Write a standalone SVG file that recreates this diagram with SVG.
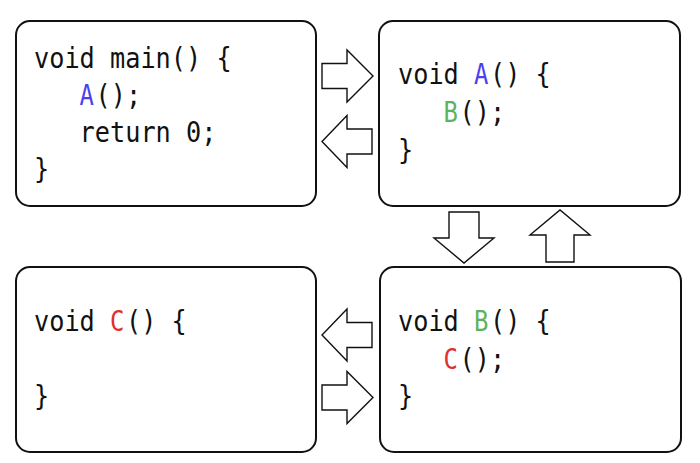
<svg xmlns="http://www.w3.org/2000/svg" width="700" height="463" viewBox="0 0 700 463">
  <style>
    .box { fill: #ffffff; stroke: #111111; stroke-width: 2; }
    .arrow { fill: #ffffff; stroke: #111111; stroke-width: 1.4; stroke-linejoin: miter; }
    .code { font-family: "DejaVu Sans Mono", "Liberation Mono", monospace; font-size: 28.5px; fill: #111111; }
    .fa { fill: #4b3ff0; }
    .fb { fill: #5db35d; }
    .fc { fill: #e0302a; }
  </style>
  <rect width="700" height="463" fill="#ffffff"/>

  <!-- main() ; monospace cells are about 15.2px wide -->
  <g id="node-main">
    <rect class="box" x="16" y="21" width="300" height="185" rx="14" ry="14"/>
    <text class="code" x="34" y="68" textLength="197.6" lengthAdjust="spacingAndGlyphs">void main() {</text>
    <text class="code fa" x="79.6" y="105" textLength="14.4" lengthAdjust="spacingAndGlyphs">A</text>
    <text class="code" x="95.6" y="105" textLength="45.6" lengthAdjust="spacingAndGlyphs">();</text>
    <text class="code" x="79.6" y="142" textLength="136.8" lengthAdjust="spacingAndGlyphs">return 0;</text>
    <text class="code" x="34" y="179" textLength="15.2" lengthAdjust="spacingAndGlyphs">}</text>
  </g>

  <!-- A() -->
  <g id="node-a">
    <rect class="box" x="379" y="21" width="301" height="185" rx="14" ry="14"/>
    <text class="code" x="398" y="84" textLength="60.8" lengthAdjust="spacingAndGlyphs">void</text>
    <text class="code fa" x="474" y="84" textLength="14.4" lengthAdjust="spacingAndGlyphs">A</text>
    <text class="code" x="490" y="84" textLength="60.8" lengthAdjust="spacingAndGlyphs">() {</text>
    <text class="code fb" x="443.6" y="122" textLength="14.4" lengthAdjust="spacingAndGlyphs">B</text>
    <text class="code" x="459.6" y="122" textLength="45.6" lengthAdjust="spacingAndGlyphs">();</text>
    <text class="code" x="398" y="160" textLength="15.2" lengthAdjust="spacingAndGlyphs">}</text>
  </g>

  <!-- C() -->
  <g id="node-c">
    <rect class="box" x="16" y="267" width="300" height="185" rx="14" ry="14"/>
    <text class="code" x="34" y="331" textLength="60.8" lengthAdjust="spacingAndGlyphs">void</text>
    <text class="code fc" x="110" y="331" textLength="14.4" lengthAdjust="spacingAndGlyphs">C</text>
    <text class="code" x="126" y="331" textLength="60.8" lengthAdjust="spacingAndGlyphs">() {</text>
    <text class="code" x="34" y="406" textLength="15.2" lengthAdjust="spacingAndGlyphs">}</text>
  </g>

  <!-- B() -->
  <g id="node-b">
    <rect class="box" x="380" y="267" width="301" height="185" rx="14" ry="14"/>
    <text class="code" x="398" y="331" textLength="60.8" lengthAdjust="spacingAndGlyphs">void</text>
    <text class="code fb" x="474" y="331" textLength="14.4" lengthAdjust="spacingAndGlyphs">B</text>
    <text class="code" x="490" y="331" textLength="60.8" lengthAdjust="spacingAndGlyphs">() {</text>
    <text class="code fc" x="443.6" y="369" textLength="14.4" lengthAdjust="spacingAndGlyphs">C</text>
    <text class="code" x="459.6" y="369" textLength="45.6" lengthAdjust="spacingAndGlyphs">();</text>
    <text class="code" x="398" y="406" textLength="15.2" lengthAdjust="spacingAndGlyphs">}</text>
  </g>

  <!-- block arrows for calls and returns -->
  <g id="connectors">
    <!-- main -> A -->
    <polygon class="arrow" points="322,63.5 347,63.5 347,50 373,76 347,102 347,88.5 322,88.5"/>
    <!-- A -> main -->
    <polygon class="arrow" points="372,129 347,129 347,115.5 322,141.5 347,167.5 347,154 372,154"/>
    <!-- A -> B -->
    <polygon class="arrow" points="449,212 479,212 479,238 494,238 464,263 434,238 449,238"/>
    <!-- B -> A -->
    <polygon class="arrow" points="546,262 574,262 574,235 590,235 560,210 530,235 546,235"/>
    <!-- B -> C -->
    <polygon class="arrow" points="372,322.5 347,322.5 347,309 322,335 347,361 347,347.5 372,347.5"/>
    <!-- C -> B -->
    <polygon class="arrow" points="322,385 347,385 347,371.5 373,397.5 347,423.5 347,410 322,410"/>
  </g>
</svg>
